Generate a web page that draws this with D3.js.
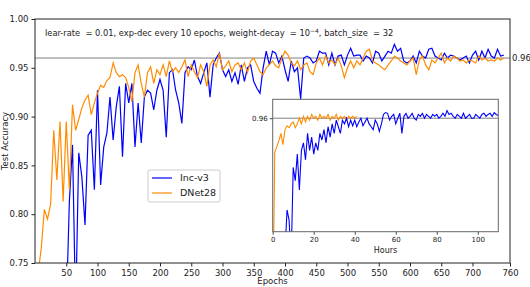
<!DOCTYPE html>
<html>
<head>
<meta charset="utf-8">
<script src="https://cdn.jsdelivr.net/npm/d3@7"></script>
<style>
  body { margin: 0; background: #fff; }
  text { font-family: "DejaVu Sans", sans-serif; fill: #222; }
</style>
</head>
<body>
<div id="chart"></div>
<script>
// ---- data ----
var epochStep = 5;
var incStart = 50;   // first epoch of the Inc-v3 series
var dnetStart = 5;   // first epoch of the DNet28 series

var incAcc = [
  0.70, 0.813, 0.871, 0.70, 0.863, 0.838, 0.789, 0.881, 0.886, 0.825,
  0.927, 0.83, 0.869, 0.883, 0.92, 0.876, 0.91, 0.931, 0.859, 0.934,
  0.914, 0.934, 0.869, 0.914, 0.873, 0.92, 0.927, 0.924, 0.907, 0.927,
  0.938, 0.927, 0.879, 0.945, 0.948, 0.927, 0.914, 0.893, 0.945, 0.951,
  0.948, 0.958, 0.941, 0.934, 0.945, 0.955, 0.92, 0.953, 0.96, 0.965,
  0.948, 0.941, 0.948, 0.936, 0.945, 0.933, 0.953, 0.936, 0.95, 0.953,
  0.936, 0.929, 0.924, 0.95, 0.967, 0.953, 0.967, 0.965, 0.955, 0.962,
  0.948, 0.936, 0.957, 0.946, 0.95, 0.918, 0.96, 0.962, 0.96, 0.955,
  0.957, 0.967, 0.965, 0.965, 0.953, 0.965, 0.953, 0.962, 0.963, 0.953,
  0.963, 0.970, 0.962, 0.963, 0.963, 0.957, 0.962, 0.96, 0.955, 0.967,
  0.965, 0.957, 0.962, 0.967, 0.965, 0.974, 0.967, 0.97, 0.957, 0.955,
  0.957, 0.962, 0.955, 0.967, 0.962, 0.96, 0.969, 0.97, 0.962, 0.96,
  0.958, 0.965, 0.96, 0.963, 0.962, 0.96, 0.958, 0.96, 0.962, 0.955,
  0.963, 0.967, 0.958, 0.967, 0.96, 0.969, 0.962, 0.96, 0.969, 0.962,
  0.963
];

var dnetAcc = [
  0.74, 0.765, 0.805, 0.795, 0.81, 0.886, 0.835, 0.895, 0.813, 0.895,
  0.825, 0.912, 0.886, 0.897, 0.909, 0.917, 0.922, 0.902, 0.914, 0.924,
  0.932, 0.93, 0.937, 0.94, 0.955, 0.945, 0.941, 0.943, 0.94, 0.93,
  0.915, 0.945, 0.953, 0.934, 0.92, 0.945, 0.951, 0.934, 0.948, 0.943,
  0.953, 0.941, 0.957, 0.946, 0.95, 0.945, 0.951, 0.958, 0.941, 0.953,
  0.946, 0.94, 0.953, 0.946, 0.931, 0.953, 0.958, 0.951, 0.965, 0.948,
  0.952, 0.957, 0.946, 0.953, 0.955, 0.948, 0.955, 0.945, 0.957, 0.96,
  0.953, 0.946, 0.943, 0.95, 0.953, 0.957, 0.952, 0.95, 0.96, 0.967,
  0.963, 0.955, 0.952, 0.957, 0.948, 0.953, 0.955, 0.946, 0.943, 0.955,
  0.96, 0.953, 0.962, 0.955, 0.958, 0.953, 0.96, 0.952, 0.94, 0.95,
  0.957, 0.95, 0.957, 0.953, 0.96, 0.967, 0.969, 0.957, 0.955, 0.953,
  0.95, 0.948, 0.953, 0.957, 0.962, 0.96, 0.957, 0.955, 0.953, 0.957,
  0.96, 0.943, 0.958, 0.962, 0.953, 0.948, 0.958, 0.955, 0.96, 0.965,
  0.955, 0.96, 0.957, 0.962, 0.96, 0.957, 0.958, 0.955, 0.958, 0.957,
  0.955, 0.962, 0.958, 0.96, 0.957, 0.958, 0.957, 0.96, 0.958, 0.96
];

// inset: accuracy against training hours (one value per hour)
var incHourStart = 6;
var dnetHourStart = 0;
var incByHour = [
  0.89, 0.9115, 0.906, 0.885, 0.934, 0.927, 0.941, 0.922, 0.943, 0.947,
  0.938, 0.952, 0.943, 0.95, 0.941, 0.947, 0.943, 0.952, 0.9485, 0.954,
  0.947, 0.9555, 0.95, 0.957, 0.952, 0.959, 0.9555, 0.952, 0.959, 0.957,
  0.96, 0.9555, 0.959, 0.956, 0.959, 0.9555, 0.958, 0.96, 0.956, 0.958,
  0.96, 0.957, 0.9555, 0.954, 0.959, 0.957, 0.953, 0.957, 0.962, 0.963,
  0.9626, 0.959, 0.961, 0.962, 0.957, 0.96, 0.9626, 0.952, 0.961, 0.9626,
  0.96, 0.961, 0.9626, 0.96, 0.959, 0.962, 0.961, 0.9626, 0.96, 0.962,
  0.961, 0.96, 0.962, 0.961, 0.962, 0.96, 0.961, 0.9626, 0.961, 0.964,
  0.962, 0.9626, 0.961, 0.96, 0.962, 0.961, 0.96, 0.9626, 0.96, 0.961,
  0.962, 0.96, 0.96, 0.962, 0.961, 0.96, 0.962, 0.9626, 0.961, 0.962,
  0.9626, 0.961, 0.963, 0.962, 0.9615
];
var dnetByHour = [
  0.85, 0.942, 0.945, 0.948, 0.952, 0.946, 0.954, 0.956, 0.955, 0.957,
  0.958, 0.955, 0.957, 0.96, 0.957, 0.961, 0.958, 0.961, 0.959, 0.962,
  0.96, 0.961, 0.959, 0.962, 0.96, 0.961, 0.96, 0.962, 0.959, 0.961,
  0.96, 0.962, 0.959, 0.961, 0.96, 0.961, 0.959, 0.961, 0.96, 0.961,
  0.96, 0.961
];

var epochTicks = [50, 100, 150, 200, 250, 300, 350, 400, 450, 500, 550, 600, 650, 700, 760];
var accTicks = [0.75, 0.80, 0.85, 0.90, 0.95, 1.00];
var hourTicks = [0, 20, 40, 60, 80, 100];
var refLevel = 0.96;
var seriesNames = ["Inc-v3", "DNet28"];
var seriesColors = ["#0000ff", "#ff8c00"];
var note = "lear-rate  = 0.01, exp-dec every 10 epochs, weight-decay  = 10";

// ---- drawing ----
var svg = d3.select("#chart").append("svg").attr("width", 530).attr("height", 287);

var x = d3.scaleLinear().domain([0, 760]).range([35, 510]);
var y = d3.scaleLinear().domain([0.75, 1.0]).range([263, 19]);

svg.append("clipPath").attr("id", "clipMain").append("rect")
  .attr("x", 35).attr("y", 19).attr("width", 475).attr("height", 244);

var incPts = incAcc.map(function(v, i){ return [incStart + i * epochStep, v]; });
var dnetPts = dnetAcc.map(function(v, i){ return [dnetStart + i * epochStep, v]; });

var line = d3.line().x(function(d){ return x(d[0]); }).y(function(d){ return y(d[1]); });

var plot = svg.append("g").attr("clip-path", "url(#clipMain)");
plot.append("line").attr("x1", 35).attr("x2", 510).attr("y1", y(refLevel)).attr("y2", y(refLevel))
  .attr("stroke", "#808080").attr("stroke-width", 1);
plot.append("path").datum(incPts).attr("d", line).attr("fill", "none")
  .attr("stroke", seriesColors[0]).attr("stroke-width", 1.2);
plot.append("path").datum(dnetPts).attr("d", line).attr("fill", "none")
  .attr("stroke", seriesColors[1]).attr("stroke-width", 1.2);

// axes
var xAxis = svg.append("g").attr("transform", "translate(0,263)")
  .call(d3.axisBottom(x).tickValues(epochTicks).tickSize(3.5).tickPadding(3).tickFormat(d3.format("d")));
var yAxis = svg.append("g").attr("transform", "translate(35,0)")
  .call(d3.axisLeft(y).tickValues(accTicks).tickSize(3.5).tickPadding(3).tickFormat(d3.format(".2f")));
[xAxis, yAxis].forEach(function(a){
  a.select(".domain").remove();
  a.selectAll("text").style("font-family", "DejaVu Sans").style("font-size", "8.5px").attr("fill", "#222");
  a.selectAll("line").attr("stroke", "#222");
});
svg.append("rect").attr("x", 35).attr("y", 19).attr("width", 475).attr("height", 244)
  .attr("fill", "none").attr("stroke", "#222").attr("stroke-width", 1);

svg.append("text").attr("x", 512).attr("y", y(refLevel)).attr("dy", "0.35em")
  .style("font-size", "8.5px").text("0.96");

svg.append("text").attr("x", 272.5).attr("y", 284).attr("text-anchor", "middle")
  .style("font-size", "8.5px").text("Epochs");
svg.append("text").attr("transform", "translate(8,141) rotate(-90)").attr("text-anchor", "middle")
  .style("font-size", "8.5px").text("Test Accuracy");

// annotation
var ann = svg.append("text").attr("x", 45).attr("y", 36).style("font-size", "8.3px")
  .style("white-space", "pre");
ann.append("tspan").text(note);
ann.append("tspan").attr("dy", -3.5).style("font-size", "6px").text("\u22124");
ann.append("tspan").attr("dy", 3.5).text(", batch_size  = 32");

// legend
var leg = svg.append("g").attr("transform", "translate(148,170)");
leg.append("rect").attr("width", 72).attr("height", 32).attr("rx", 2)
  .attr("fill", "#fff").attr("fill-opacity", 0.8).attr("stroke", "#cccccc");
seriesNames.forEach(function(n, i){
  var ly = 8 + i * 15;
  leg.append("line").attr("x1", 4).attr("x2", 24).attr("y1", ly).attr("y2", ly)
    .attr("stroke", seriesColors[i]).attr("stroke-width", 1.2);
  leg.append("text").attr("x", 32).attr("y", ly).attr("dy", "0.35em")
    .style("font-size", "9.5px").text(n);
});

// inset
var xi = d3.scaleLinear().domain([0, 110]).range([272.7, 498.3]);
var yi = d3.scaleLinear().domain([0.90, 0.97]).range([231.7, 99.3]);
var inset = svg.append("g");
inset.append("rect").attr("x", 272.7).attr("y", 99.3).attr("width", 225.6).attr("height", 132.4)
  .attr("fill", "#fff");
inset.append("clipPath").attr("id", "clipInset").append("rect")
  .attr("x", 272.7).attr("y", 99.3).attr("width", 225.6).attr("height", 132.4);

var lineI = d3.line().x(function(d){ return xi(d[0]); }).y(function(d){ return yi(d[1]); });
var incH = incByHour.map(function(v, i){ return [incHourStart + i, v]; });
var dnetH = dnetByHour.map(function(v, i){ return [dnetHourStart + i, v]; });

var ip = inset.append("g").attr("clip-path", "url(#clipInset)");
ip.append("line").attr("x1", 272.7).attr("x2", 498.3).attr("y1", yi(refLevel)).attr("y2", yi(refLevel))
  .attr("stroke", "#808080").attr("stroke-width", 1);
ip.append("path").datum(dnetH).attr("d", lineI).attr("fill", "none")
  .attr("stroke", seriesColors[1]).attr("stroke-width", 1.1);
ip.append("path").datum(incH).attr("d", lineI).attr("fill", "none")
  .attr("stroke", seriesColors[0]).attr("stroke-width", 1.1);

var xiAxis = inset.append("g").attr("transform", "translate(0,231.7)")
  .call(d3.axisBottom(xi).tickValues(hourTicks).tickSize(3).tickPadding(2).tickFormat(d3.format("d")));
var yiAxis = inset.append("g").attr("transform", "translate(272.7,0)")
  .call(d3.axisLeft(yi).tickValues([refLevel]).tickSize(3).tickPadding(2).tickFormat(d3.format(".2f")));
[xiAxis, yiAxis].forEach(function(a){
  a.select(".domain").remove();
  a.selectAll("text").style("font-family", "DejaVu Sans").style("font-size", "7px").attr("fill", "#222");
  a.selectAll("line").attr("stroke", "#444");
});
inset.append("rect").attr("x", 272.7).attr("y", 99.3).attr("width", 225.6).attr("height", 132.4)
  .attr("fill", "none").attr("stroke", "#666").attr("stroke-width", 1);
inset.append("text").attr("x", 385.5).attr("y", 253).attr("text-anchor", "middle")
  .style("font-size", "8px").text("Hours");
</script>
</body>
</html>
